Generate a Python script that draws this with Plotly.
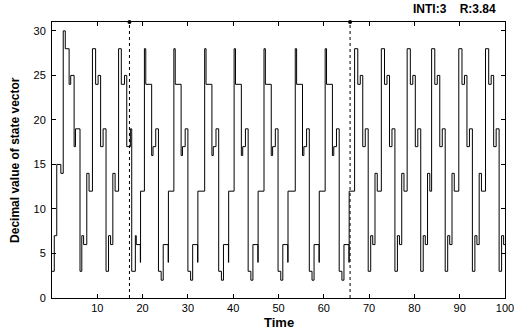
import plotly.graph_objects as go

# ---------------- data ----------------
# initial transient (state, duration)
init_states = [3, 7, 15, 14]
init_durations = [0.5, 0.55, 0.9, 0.53]

# start time of each cycle (rise to the top state), and its type
cycle_starts = [2.48, 8.93, 14.7, 20.4, 26.9, 33.7, 40.2, 46.8, 53.7, 60.3,
                66.8, 72.7, 78.4, 83.8, 89.8, 95.7]
cycle_types = ["A1", "A", "AB", "B", "B", "B", "B", "B", "B", "B",
               "A", "A", "A", "A", "A", "A"]

# states visited in each cycle type; the last state lasts until the next cycle
cycle_states = {
    "A1": [30, 28, 24, 25, 17, 19, 3, 7, 6, 14, 12],
    "A":  [28, 24, 25, 17, 19, 3, 7, 6, 14, 12],
    "AB": [28, 24, 25, 17, 19, 3, 7, 6, 4, 12],
    "B":  [28, 24, 16, 17, 19, 3, 2, 6, 4, 12],
}
cycle_durations = {
    "A1": [0.45, 0.85, 0.35, 0.75, 0.3, 1.0, 0.4, 0.4, 0.7, 0.5],
    "A":  [0.7, 0.55, 0.55, 0.55, 0.65, 0.55, 0.45, 0.5, 0.5],
    "AB": [0.6, 0.7, 0.5, 0.8, 0.3, 0.8, 0.2, 0.9, 0.05],
    "B":  [0.3, 1.3, 0.3, 0.6, 0.6, 0.6, 0.45, 1.1, 0.05],
}
t_end = 100
switch_times = [17.1, 65.8]

x_ticks = [10, 20, 30, 40, 50, 60, 70, 80, 90, 100]
y_ticks = [0, 5, 10, 15, 20, 25, 30]

# ---------------- build the step trace ----------------
t, v = [], []
tc = 0.0
for s, d in zip(init_states, init_durations):
    t.append(tc); v.append(s); tc += d
for start, ctype in zip(cycle_starts, cycle_types):
    tc = start
    sts = cycle_states[ctype]
    durs = cycle_durations[ctype]
    for i, s in enumerate(sts):
        if tc >= t_end:
            break
        t.append(tc); v.append(s)
        if i < len(durs):
            tc += durs[i]
t.append(t_end); v.append(v[-1])

font = "Liberation Sans, Arial, sans-serif"
fig = go.Figure()
fig.add_trace(go.Scatter(x=t, y=v, mode="lines", line=dict(color="black", width=1, shape="hv"),
                         hoverinfo="skip", showlegend=False))
for st in switch_times:
    fig.add_trace(go.Scatter(x=[st, st], y=[0, 31], mode="lines",
                             line=dict(color="black", width=1, dash="dot"),
                             showlegend=False, hoverinfo="skip"))
    fig.add_trace(go.Scatter(x=[st], y=[31], mode="markers",
                             marker=dict(color="black", size=4),
                             showlegend=False, hoverinfo="skip", cliponaxis=False))

axis_common = dict(showline=True, linecolor="black", linewidth=1, mirror="allticks",
                   ticks="inside", ticklen=4, tickcolor="black", showgrid=False,
                   zeroline=False, tickfont=dict(family=font, size=11, color="black"))
fig.update_xaxes(range=[0, 100], tickvals=x_ticks, **axis_common)
fig.update_yaxes(range=[0, 31], tickvals=y_ticks, ticklabelstandoff=3, **axis_common)

fig.update_layout(
    width=526, height=331,
    margin=dict(l=52, r=17, t=22, b=33),
    paper_bgcolor="white", plot_bgcolor="white",
    annotations=[
        dict(text="<b>Time</b>", x=0.5, y=-0.09, xref="paper", yref="paper",
             xanchor="center", yanchor="middle", showarrow=False,
             font=dict(family=font, size=13, color="black")),
        dict(text="<b>Decimal value of state vector</b>", x=-0.062, y=0.5,
             xref="paper", yref="paper", textangle=-90, xanchor="right",
             yanchor="middle", showarrow=False,
             font=dict(family=font, size=12, color="black")),
        dict(text="<b>INTI:3&nbsp;&nbsp;&nbsp;&nbsp;R:3.84</b>", x=0.985, y=1.0,
             xref="paper", yref="paper", xanchor="right", yanchor="bottom",
             yshift=4, showarrow=False, font=dict(family=font, size=12, color="black")),
    ],
)
fig.write_html("out.html")
